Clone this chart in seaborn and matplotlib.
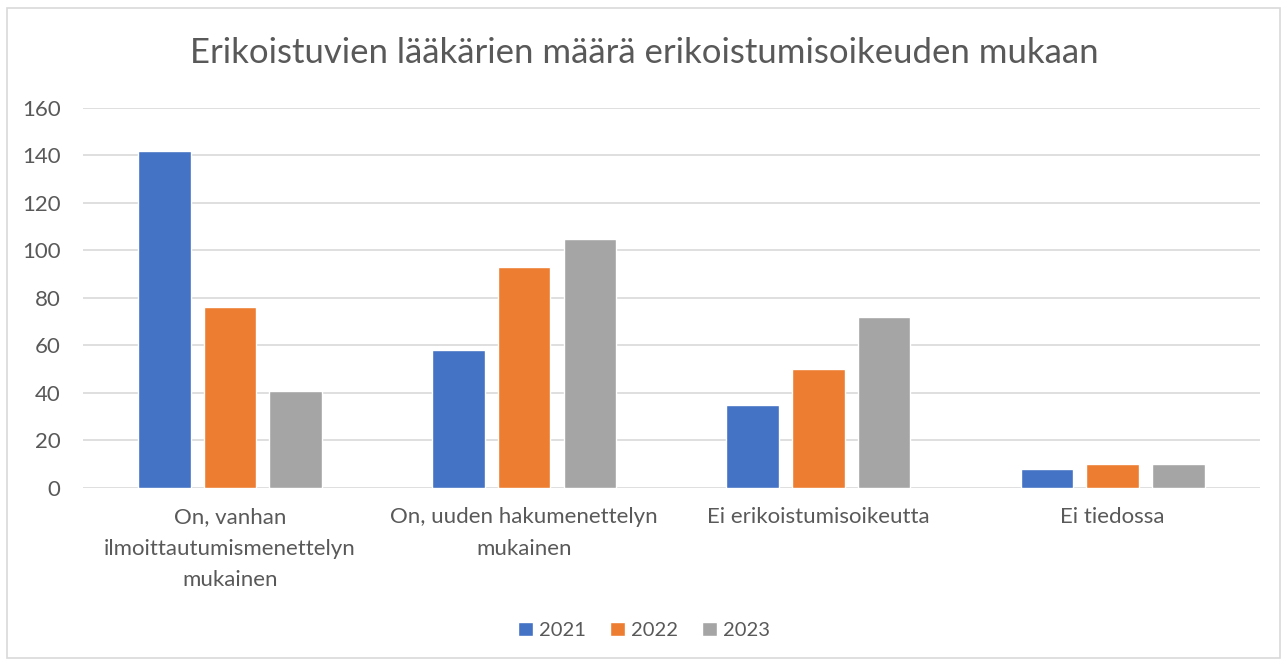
import pandas as pd
import matplotlib
matplotlib.use("Agg")
import matplotlib.pyplot as plt
import seaborn as sns
from matplotlib.patches import Rectangle

# Data
categories = [
    "On, vanhan\nilmoittautumismenettelyn\nmukainen",
    "On, uuden hakumenettelyn\nmukainen",
    "Ei erikoistumisoikeutta",
    "Ei tiedossa",
]
years = ["2021", "2022", "2023"]
values_2021 = [142, 58, 35, 8]
values_2022 = [76, 93, 50, 10]
values_2023 = [41, 105, 72, 10]
colors = ["#4472C4", "#ED7D31", "#A5A5A5"]

rows = []
for year, vals in zip(years, [values_2021, values_2022, values_2023]):
    for cat, v in zip(categories, vals):
        rows.append({"kategoria": cat, "vuosi": year, "määrä": v})
df = pd.DataFrame(rows)

sns.set_theme(style="white")
plt.rcParams["font.family"] = ["Lato", "DejaVu Sans"]
text_col = "#595959"

fig = plt.figure(figsize=(12.88, 6.62), dpi=100)
ax = fig.add_axes([0.0644, 0.263, 0.9136, 0.574])

sns.barplot(data=df, x="kategoria", y="määrä", hue="vuosi", order=categories,
            hue_order=years, palette=colors, width=0.67, gap=0.2,
            saturation=1, ax=ax, zorder=3)

ax.set_ylim(0, 160)
ax.set_yticks(range(0, 161, 20))
ax.set_xlim(-0.5, len(categories) - 0.5)
ax.grid(axis="y", color="#d9d9d9", linewidth=1.2, zorder=0)
ax.set_axisbelow(True)
for s in ax.spines.values():
    s.set_visible(False)
ax.set_xlabel("")
ax.set_ylabel("")
ax.tick_params(axis="both", length=0, colors=text_col)
ax.tick_params(axis="x", pad=14, labelsize=16)
ax.tick_params(axis="y", pad=16, labelsize=16)
for lbl in ax.get_xticklabels():
    lbl.set_linespacing(1.72)

fig.suptitle("Erikoistuvien lääkärien määrä erikoistumisoikeuden mukaan",
             y=0.944, fontsize=25, color=text_col)

handles, labels = ax.get_legend_handles_labels()
ax.legend_.remove()
fig.legend(handles, labels, loc="center", bbox_to_anchor=(0.5, 0.048), ncol=3,
           frameon=False, fontsize=14.5, handlelength=0.75, handleheight=0.75,
           handletextpad=0.3, columnspacing=1.2, labelcolor=text_col)

# light frame around the whole chart
fig.patches.append(Rectangle((0.0055, 0.006), 0.988, 0.982, transform=fig.transFigure,
                             fill=False, edgecolor="#d9d9d9", linewidth=1.2))

fig.savefig("out.png", dpi=100, facecolor="white")
